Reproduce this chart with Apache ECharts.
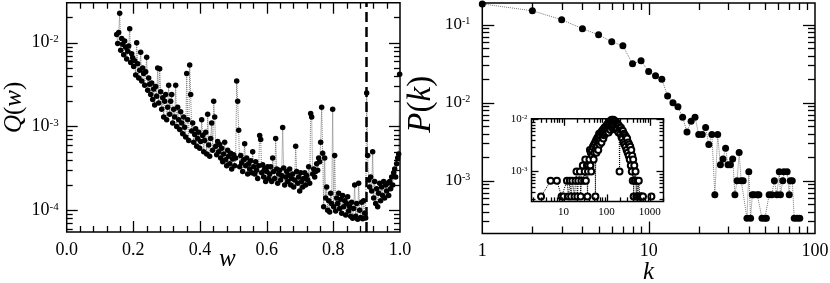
<!DOCTYPE html>
<html>
<head>
<meta charset="utf-8">
<script src="https://cdn.jsdelivr.net/npm/echarts/dist/echarts.min.js"></script>
<style>html,body{margin:0;padding:0;background:#fff}#c{width:830px;height:283px}</style>
</head>
<body>
<div id="c"></div>
<script>
// ---------- Left panel: Q(w) ----------
const wValues = [
0.150,0.153,0.156,0.159,0.162,0.165,0.168,0.171,0.174,0.177,0.180,0.183,0.186,0.189,0.192,0.195,0.198,
0.201,0.204,0.207,0.210,0.213,0.216,0.219,0.222,0.225,0.228,0.231,0.234,0.237,0.240,0.243,0.246,0.249,
0.252,0.255,0.258,0.261,0.264,0.267,0.270,0.273,0.276,0.279,0.282,0.285,0.288,0.291,0.294,0.297,0.300,
0.303,0.306,0.309,0.312,0.315,0.318,0.321,0.324,0.327,0.330,0.333,0.336,0.339,0.342,0.345,0.348,0.351,
0.354,0.357,0.360,0.363,0.366,0.369,0.372,0.375,0.378,0.381,0.384,0.387,0.390,0.393,0.396,0.399,0.402,
0.405,0.408,0.411,0.414,0.417,0.420,0.423,0.426,0.429,0.432,0.435,0.438,0.441,0.444,0.447,0.450,0.453,
0.456,0.459,0.462,0.465,0.468,0.471,0.474,0.477,0.480,0.483,0.486,0.489,0.492,0.495,0.498,0.501,0.504,
0.507,0.510,0.513,0.516,0.519,0.522,0.525,0.528,0.531,0.534,0.537,0.540,0.543,0.546,0.549,0.552,0.555,
0.558,0.561,0.564,0.567,0.570,0.573,0.576,0.579,0.582,0.585,0.588,0.591,0.594,0.597,0.600,0.603,0.606,
0.609,0.612,0.615,0.618,0.621,0.624,0.627,0.630,0.633,0.636,0.639,0.642,0.645,0.648,0.651,0.654,0.657,
0.660,0.663,0.666,0.669,0.672,0.675,0.678,0.681,0.684,0.687,0.690,0.693,0.696,0.699,0.702,0.705,0.708,
0.711,0.714,0.717,0.720,0.723,0.726,0.729,0.732,0.735,0.738,0.741,0.744,0.747,0.750,0.753,0.756,0.759,
0.762,0.765,0.768,0.771,0.774,0.777,0.780,0.783,0.786,0.789,0.792,0.795,0.798,0.801,0.804,0.807,0.810,
0.813,0.816,0.819,0.822,0.825,0.828,0.831,0.834,0.837,0.840,0.843,0.846,0.849,0.852,0.855,0.858,0.861,
0.864,0.867,0.870,0.873,0.876,0.879,0.882,0.885,0.888,0.891,0.894,0.897,0.900,0.903,0.906,0.909,0.912,
0.915,0.918,0.921,0.924,0.927,0.930,0.933,0.936,0.939,0.942,0.945,0.948,0.951,0.954,0.957,0.960,0.963,
0.966,0.969,0.972,0.975,0.978,0.981,0.984,0.987,0.990,0.993,0.996,0.999
];
const qValues = [
0.0125,0.0098,0.0132,0.0225,0.0081,0.0112,0.0096,0.0072,0.0105,0.0088,0.0064,0.0079,0.0091,0.0147,0.0058,0.0074,0.0066,
0.0052,0.0061,0.0041,0.0100,0.0056,0.0038,0.0047,0.0077,0.0035,0.0050,0.0043,0.0031,0.0045,0.0067,0.0027,0.0038,0.0032,
0.0024,0.0033,0.0021,0.0028,0.0018,0.0030,0.0023,0.0050,0.0019,0.0049,0.0026,0.0016,0.0022,0.0013,0.0020,0.0024,0.0012,
0.0017,0.0031,0.0014,0.0020,0.0024,0.0011,0.0016,0.0013,0.0031,0.0010,0.0017,0.0012,0.00092,0.0015,0.0011,0.00082,0.0013,
0.00098,0.00075,0.0043,0.0012,0.00068,0.0054,0.0024,0.00088,0.0011,0.00065,0.00080,0.00094,0.00058,0.00072,0.00085,0.00055,0.00066,
0.0012,0.00078,0.00050,0.00068,0.00085,0.00047,0.0014,0.00060,0.00044,0.00072,0.0011,0.00052,0.0020,0.0013,0.00058,0.00046,0.00066,
0.00050,0.00061,0.00042,0.00055,0.00038,0.00047,0.00065,0.00040,0.00034,0.00052,0.00044,0.00036,0.00048,0.00031,0.00041,0.00046,0.00034,
0.00042,0.0035,0.0020,0.00090,0.00033,0.00045,0.00037,0.00029,0.00040,0.00062,0.00034,0.00042,0.00027,0.00036,0.00031,0.00039,0.00028,
0.00050,0.00033,0.00027,0.00038,0.00030,0.00024,0.00034,0.00078,0.00070,0.00028,0.00035,0.00025,0.00031,0.00022,0.00029,0.00033,0.00024,
0.00027,0.00033,0.00022,0.00042,0.00029,0.00024,0.00072,0.00031,0.00021,0.00027,0.00030,0.00023,0.00026,0.00097,0.00032,0.00020,0.00025,
0.00029,0.00022,0.00026,0.00031,0.00020,0.00024,0.00027,0.00019,0.00023,0.00058,0.00029,0.00021,0.00025,0.00017,0.00028,0.00022,0.00019,
0.00024,0.00028,0.00020,0.00026,0.00023,0.00033,0.00021,0.00143,0.00130,0.00027,0.00031,0.00025,0.00029,0.00036,0.00030,0.00042,0.00038,
0.00065,0.0017,0.00048,0.00011,0.00042,0.00014,0.00019,0.00010,0.00013,0.000095,0.00016,0.00012,0.0016,0.00011,0.00045,0.000098,0.00014,
0.00012,0.00016,0.000105,0.000135,0.000092,0.00015,0.00011,0.00013,0.000088,0.00012,0.000145,0.000098,0.00011,0.000085,0.000125,0.00008,0.000105,
0.00020,0.000085,0.00012,0.000078,0.00021,0.00010,0.000082,0.000125,0.000079,0.00013,0.000092,0.000081,0.0025,0.00045,0.00023,0.00019,0.00025,
0.00017,0.00050,0.00014,0.00022,0.00012,0.00018,0.00011,0.00016,0.00021,0.00013,0.00019,0.00015,0.00022,0.00014,0.00020,0.00017,0.00021,
0.00015,0.00022,0.00018,0.00025,0.00020,0.00028,0.00031,0.00025,0.00036,0.00042,0.00047,0.0042
];
const thresholdW = 0.9;

// ---------- Right panel: P(k) ----------
const kValues = [1,2,3,4,5,6,7,8,9,10,11,12,13,14,15,16,17,18,19,20,21,22,23,24,25,26,27,28,29,30,31,32,33,34,35,36,37,
  39,40,41,42,43,45,46,48,50,51,53,55,57,59,61,62,64,65,68,70,71,73,75,78,81];
const pValues = [0.185,0.151,0.116,0.089,0.0743,0.0604,0.0537,0.0315,0.0344,0.0251,
  0.0221,0.0200,0.0122,0.0100,0.0089,0.0065,0.0042,0.0058,0.0065,0.0039,
  0.0039,0.0048,0.0029,0.0039,0.00066,0.0039,0.0016,0.0019,0.0026,0.0016,
  0.0016,0.0019,0.00066,0.0010,0.0023,0.0010,0.0010,
  0.00033,0.0013,0.00033,0.00066,0.00066,0.00066,0.00066,0.00033,0.00033,0.00033,0.00066,0.00066,0.0010,0.00066,
  0.0013,0.00066,0.0010,0.0013,0.0013,0.00066,0.0010,0.0010,0.00033,0.00033,0.00033];

// ---------- Inset ----------
const insetK = [3,5,7,9,10,12,13,14,15,16,
  18,19,20,21,22,24,25,26,28,30,
  31,32,33,35,36,37,38,
  40,41,42,43,44,46,47,48,50,51,
  52,54,55,56,57,58,60,61,63,64,
  66,67,69,70,72,74,76,78,80,82,
  84,86,88,90,93,96,99,102,105,108,
  111,114,117,120,123,126,129,132,135,138,
  141,144,148,152,156,160,164,168,172,176,
  180,185,190,195,200,205,210,216,222,228,
  234,240,247,254,261,268,276,284,292,300,
  309,318,327,336,345,355,365,375,385,395,
  405,415,425,440,455,470,490,510,530,560,
  590,620,660,700,1100];
const insetP = [3.3e-4,6.6e-4,6.6e-4,3.3e-4,3.3e-4,6.6e-4,3.3e-4,6.6e-4,3.3e-4,6.6e-4,
  3.3e-4,6.6e-4,1.0e-3,3.3e-4,6.6e-4,1.0e-3,3.3e-4,6.6e-4,1.3e-3,6.6e-4,
  1.0e-3,1.7e-3,6.6e-4,1.3e-3,3.3e-4,1.0e-3,1.3e-3,
  1.7e-3,2.6e-3,1.3e-3,2.3e-3,1.0e-3,2.6e-3,2.0e-3,3.0e-3,1.7e-3,3.3e-3,
  2.3e-3,3.6e-3,3.3e-4,2.6e-3,4.0e-3,2.3e-3,4.3e-3,3.0e-3,4.6e-3,2.6e-3,
  4.3e-3,5.3e-3,3.3e-3,5.0e-3,4.0e-3,5.6e-3,3.6e-3,6.0e-3,4.6e-3,6.3e-3,
  4.3e-3,6.6e-3,5.0e-3,7.0e-3,5.3e-3,7.3e-3,5.6e-3,7.9e-3,6.0e-3,8.3e-3,
  5.6e-3,8.6e-3,6.6e-3,9.2e-3,6.3e-3,9.6e-3,7.3e-3,9.9e-3,7.6e-3,9.6e-3,
  6.6e-3,9.9e-3,7.9e-3,9.2e-3,6.6e-3,9.2e-3,7.0e-3,8.6e-3,6.3e-3,8.3e-3,
  6.6e-3,7.9e-3,5.6e-3,7.6e-3,1.0e-3,7.0e-3,5.3e-3,6.9e-3,4.6e-3,6.3e-3,
  4.3e-3,6.0e-3,3.6e-3,5.3e-3,3.3e-3,5.0e-3,3.0e-3,4.6e-3,2.6e-3,4.3e-3,
  2.3e-3,3.6e-3,2.0e-3,3.3e-3,1.7e-3,3.0e-3,1.3e-3,2.6e-3,1.0e-3,2.0e-3,
  6.6e-4,1.7e-3,3.3e-4,1.3e-3,6.6e-4,1.0e-3,3.3e-4,6.6e-4,3.3e-4,6.6e-4,
  3.3e-4,3.3e-4,3.3e-4,3.3e-4,3.3e-4];

// ---------- Axis ranges and tick values ----------
const leftXRange = [0, 1];
const leftYRange = [5.5e-5, 0.03];
const rightXRange = [1, 100];
const rightYRange = [2.1e-4, 0.19];
const insetXRange = [1.8, 2100];
const insetYRange = [2.66e-4, 0.0103];

const leftXMajor = [0.2, 0.4, 0.6, 0.8];
const leftXMinor = [0.04,0.08,0.12,0.16,0.24,0.28,0.32,0.36,0.44,0.48,0.52,0.56,0.64,0.68,0.72,0.76,0.84,0.88,0.92,0.96];
const leftYMajor = [1e-4, 1e-3, 1e-2];
const leftYMinor = [6e-5,7e-5,8e-5,9e-5,2e-4,3e-4,4e-4,5e-4,6e-4,7e-4,8e-4,9e-4,2e-3,3e-3,4e-3,5e-3,6e-3,7e-3,8e-3,9e-3,2e-2];
const rightXMajor = [10];
const rightXMinor = [2,3,4,5,6,7,8,9,20,30,40,50,60,70,80,90];
const rightYMajor = [1e-3, 1e-2, 1e-1];
const rightYMinor = [3e-4,4e-4,5e-4,6e-4,7e-4,8e-4,9e-4,2e-3,3e-3,4e-3,5e-3,6e-3,7e-3,8e-3,9e-3,2e-2,3e-2,4e-2,5e-2,6e-2,7e-2,8e-2,9e-2];
const insetXMajor = [10, 100, 1000];
const insetXMinor = [2,3,4,5,6,7,8,9,20,30,40,50,60,70,80,90,200,300,400,500,600,700,800,900,2000];
const insetYMajor = [1e-3, 1e-2];
const insetYMinor = [3e-4,4e-4,5e-4,6e-4,7e-4,8e-4,9e-4,2e-3,3e-3,4e-3,5e-3,6e-3,7e-3,8e-3,9e-3];

// ---------- Build option ----------
const FONT = 'Liberation Serif';
function isPow10(v){ const e = Math.log10(v); return Math.abs(e - Math.round(e)) < 1e-6; }
function supLabel(v){ if(!isPow10(v)) return ''; return '{b|10}{s|' + Math.round(Math.log10(v)) + '}'; }
function plainPow(v){ if(!isPow10(v)) return ''; return String(Math.round(v)); }
function supRich(big, small){
  return { b:{fontSize:big, fontFamily:FONT, color:'#000'},
           s:{fontSize:small, fontFamily:FONT, color:'#000', verticalAlign:'top', lineHeight: big} };
}
function titleRich(size){
  return { i:{fontSize:size, fontFamily:FONT, fontStyle:'italic', color:'#000'},
           n:{fontSize:size, fontFamily:FONT, color:'#000'} };
}

function tickSeries(idx, xr, yr, xMaj, xMin, yMaj, yMin, majLen, minLen){
  const data = [];
  xMaj.forEach(v => data.push([v, yr[0], 0, majLen]));
  xMin.forEach(v => data.push([v, yr[0], 0, minLen]));
  yMaj.forEach(v => data.push([xr[0], v, 1, majLen]));
  yMin.forEach(v => data.push([xr[0], v, 1, minLen]));
  return {
    type:'custom', xAxisIndex: idx, yAxisIndex: idx, data, silent:true, z:5,
    renderItem(params, api){
      const cs = params.coordSys;
      const kind = api.value(2), L = api.value(3);
      const p = api.coord([api.value(0), api.value(1)]);
      const style = {stroke:'#000', lineWidth:1.3};
      if(kind === 0){
        const x = Math.round(p[0]) + 0.5;
        return {type:'group', children:[
          {type:'line', shape:{x1:x, y1:cs.y+cs.height, x2:x, y2:cs.y+cs.height-L}, style},
          {type:'line', shape:{x1:x, y1:cs.y, x2:x, y2:cs.y+L}, style}
        ]};
      } else {
        const y = Math.round(p[1]) + 0.5;
        return {type:'group', children:[
          {type:'line', shape:{x1:cs.x, y1:y, x2:cs.x+L, y2:y}, style},
          {type:'line', shape:{x1:cs.x+cs.width, y1:y, x2:cs.x+cs.width-L, y2:y}, style}
        ]};
      }
    }
  };
}

const hidden = {axisLine:{show:false}, axisTick:{show:false}, splitLine:{show:false}, minorTick:{show:false}};
const gridBase = {show:true, borderColor:'#000', borderWidth:1.5, containLabel:false, outerBoundsMode:'none'};

const option = {
  animation:false,
  backgroundColor:'#fff',
  grid:[
    Object.assign({left:66.7, top:2.7, width:333.3, height:229.3, backgroundColor:'transparent'}, gridBase),
    Object.assign({left:482.3, top:3, width:332.7, height:230.5, backgroundColor:'transparent'}, gridBase),
    Object.assign({left:531.5, top:118.8, width:132, height:82.6, backgroundColor:'#fff', z:3}, gridBase)
  ],
  xAxis:[
    Object.assign({type:'value', gridIndex:0, min:leftXRange[0], max:leftXRange[1], interval:0.2,
      axisLabel:{formatter:v=>v.toFixed(1), fontSize:18, fontFamily:FONT, color:'#000', margin:9},
      name:'w', nameLocation:'middle', nameGap:15, nameMoveOverlap:false,
      nameTextStyle:{fontSize:25, fontFamily:FONT, fontStyle:'italic', color:'#000', padding:[0,12,0,0]}}, hidden),
    Object.assign({type:'log', logBase:10, gridIndex:1, min:rightXRange[0], max:rightXRange[1],
      axisLabel:{formatter:plainPow, fontSize:18, fontFamily:FONT, color:'#000', margin:9, showMinLabel:true, showMaxLabel:true},
      name:'k', nameLocation:'middle', nameGap:26, nameMoveOverlap:false,
      nameTextStyle:{fontSize:25, fontFamily:FONT, fontStyle:'italic', color:'#000'}}, hidden),
    Object.assign({type:'log', logBase:10, gridIndex:2, min:insetXRange[0], max:insetXRange[1],
      axisLabel:{formatter:plainPow, fontSize:11, fontFamily:FONT, color:'#000', margin:5}}, hidden)
  ],
  yAxis:[
    Object.assign({type:'log', logBase:10, gridIndex:0, min:leftYRange[0], max:leftYRange[1],
      axisLabel:{formatter:supLabel, margin:8, rich:supRich(18,11)},
      name:'{i|Q}{n|(}{i|w}{n|)}', nameLocation:'middle', nameGap:40, nameRotate:90,
      nameTextStyle:{padding:[0,0,0,20], rich:titleRich(25)}}, hidden),
    Object.assign({type:'log', logBase:10, gridIndex:1, min:rightYRange[0], max:rightYRange[1],
      axisLabel:{formatter:supLabel, margin:12, rich:supRich(17,10)},
      name:'{i|P}{n|(}{i|k}{n|)}', nameLocation:'middle', nameGap:44, nameRotate:90,
      nameTextStyle:{padding:[0,0,0,28], rich:titleRich(33)}}, hidden),
    Object.assign({type:'log', logBase:10, gridIndex:2, min:insetYRange[0], max:insetYRange[1],
      axisLabel:{formatter:supLabel, margin:4, rich:supRich(11,7)}}, hidden)
  ],
  series:[
    {type:'line', xAxisIndex:0, yAxisIndex:0, data:wValues.map((w,i)=>[w,qValues[i]]),
     symbol:'circle', symbolSize:5.5, showAllSymbol:true, itemStyle:{color:'#000'},
     lineStyle:{color:'#777', width:1, type:'dotted'}, z:2,
     markLine:{silent:true, symbol:'none', label:{show:false},
       lineStyle:{color:'#000', width:2.5, type:[10,5]}, data:[{xAxis:thresholdW}]}},
    {type:'line', xAxisIndex:1, yAxisIndex:1, data:kValues.map((k,i)=>[k,pValues[i]]),
     symbol:'circle', symbolSize:7, showAllSymbol:true, itemStyle:{color:'#000'},
     lineStyle:{color:'#777', width:1, type:'dotted'}, z:2},
    {type:'line', xAxisIndex:2, yAxisIndex:2, data:insetK.map((k,i)=>[k,insetP[i]]),
     symbol:'emptyCircle', symbolSize:6, showAllSymbol:true, itemStyle:{color:'#000', borderColor:'#000', borderWidth:1.2},
     lineStyle:{color:'#000', width:1, type:'dotted'}, z:4},
    tickSeries(0, leftXRange, leftYRange, leftXMajor, leftXMinor, leftYMajor, leftYMinor, 11, 6),
    tickSeries(1, rightXRange, rightYRange, rightXMajor, rightXMinor, rightYMajor, rightYMinor, 12, 7),
    tickSeries(2, insetXRange, insetYRange, insetXMajor, insetXMinor, insetYMajor, insetYMinor, 7, 4)
  ]
};
const chart = echarts.init(document.getElementById('c'), null, {renderer:'canvas'});
chart.setOption(option);
</script>
</body>
</html>
